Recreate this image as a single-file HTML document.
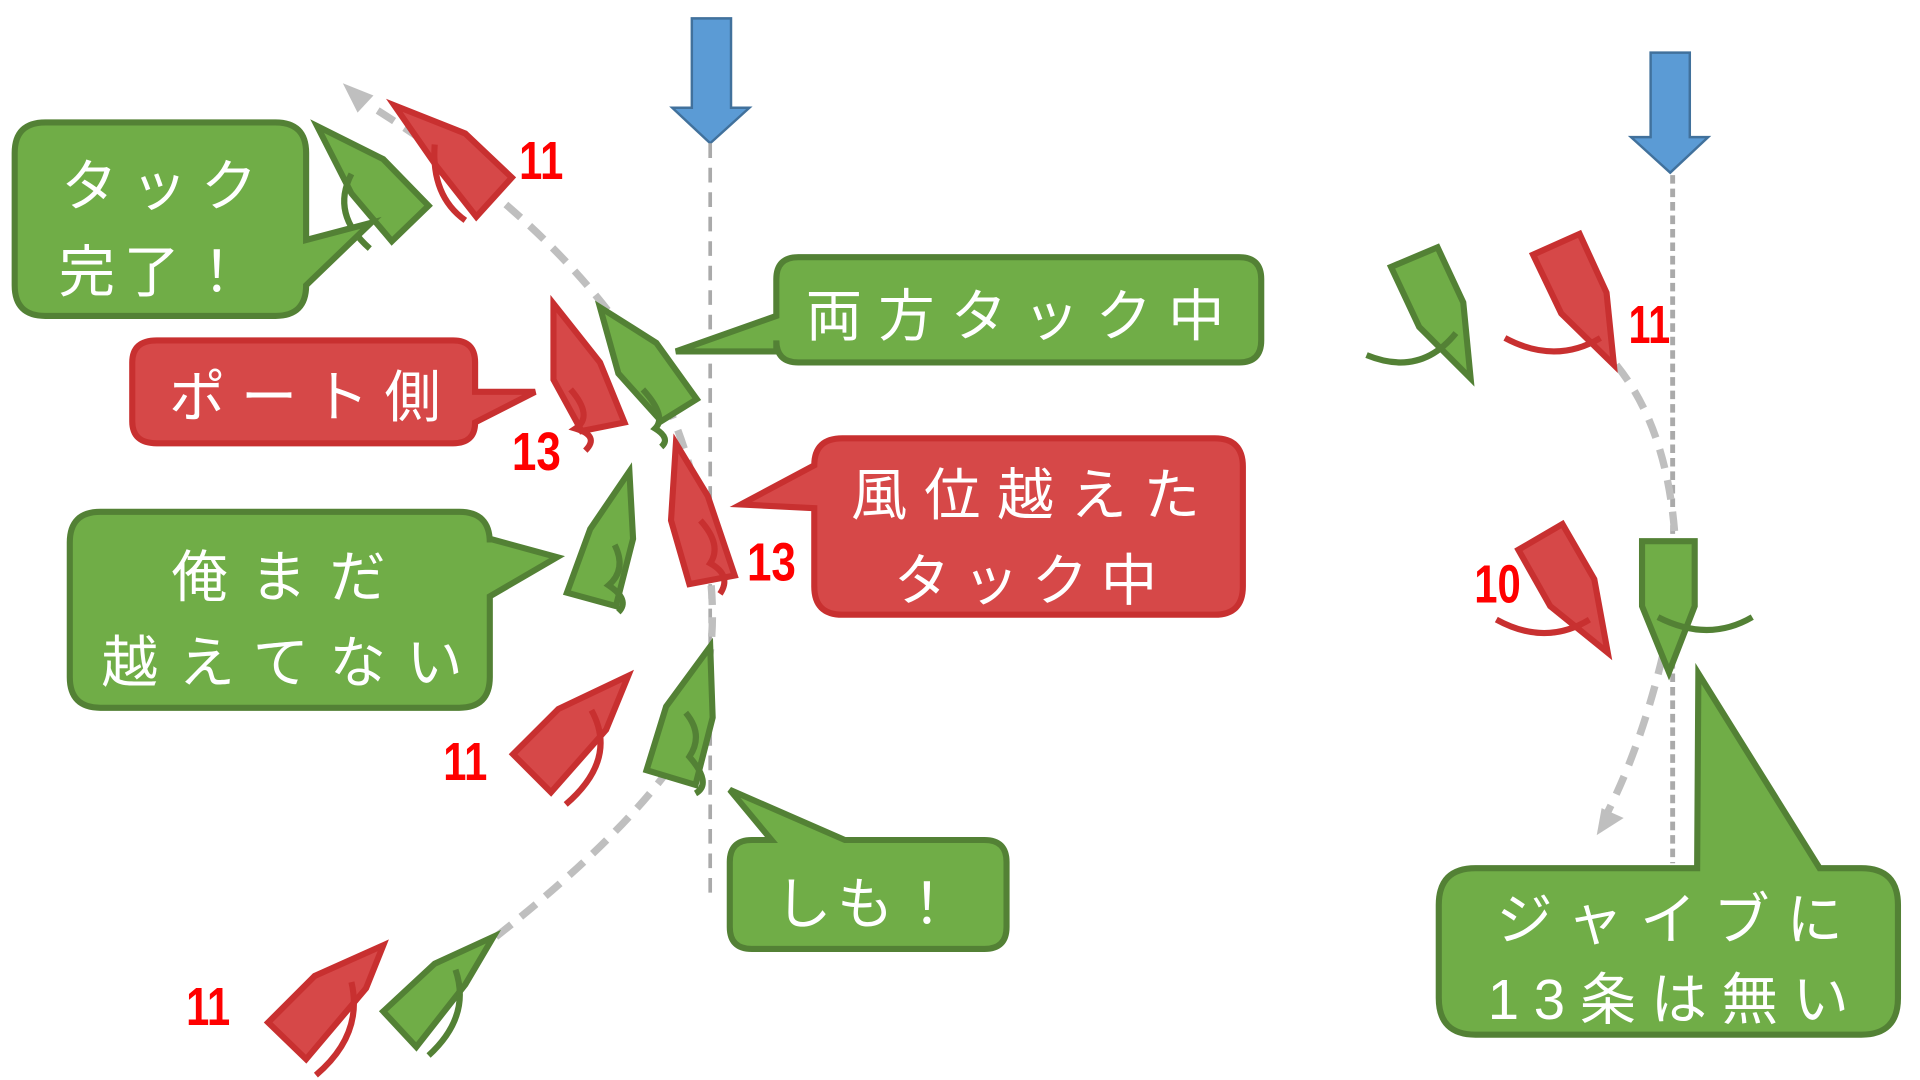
<!DOCTYPE html>
<html><head><meta charset="utf-8"><style>
html,body{margin:0;padding:0;background:#fff;width:1920px;height:1080px;overflow:hidden}
svg{display:block}
.t{font-family:"Liberation Sans","Noto Sans CJK JP",sans-serif;fill:#fff;font-size:46px}
.n{font-family:"Liberation Sans Narrow","Liberation Sans",sans-serif;fill:#ff0000;font-size:44px;font-weight:bold}
.g{fill:#70ad47;stroke:#538135;stroke-width:5;stroke-linejoin:miter}
.r{fill:#d64848;stroke:#c83030;stroke-width:5;stroke-linejoin:miter}
.gl{fill:none;stroke:#538135;stroke-width:5}
.rl{fill:none;stroke:#c83030;stroke-width:5}
.ds{fill:none;stroke:#bfbfbf;stroke-width:6;stroke-dasharray:16 10}
</style></head><body>
<svg width="1920" height="1080" viewBox="0 0 1568 882" preserveAspectRatio="none" xmlns="http://www.w3.org/2000/svg">
<polygon points="565,15 597,15 597,88 612,88 580,117 549,88 565,88" fill="#5b9bd5" stroke="#41719c" stroke-width="2"/>
<line x1="580" y1="117" x2="580" y2="735" stroke="#aaa" stroke-width="3" stroke-dasharray="12 8"/>
<polygon points="1348,43 1380,43 1380,112 1395,112 1364,141 1332,112 1348,112" fill="#5b9bd5" stroke="#41719c" stroke-width="2"/>
<line x1="1366" y1="143" x2="1366" y2="705" stroke="#aaa" stroke-width="4" stroke-dasharray="7 4"/>

<path class="ds" d="M405,765 Q500,690 545,630 Q590,560 580,470 Q570,380 540,320 Q470,190 300,85"/>
<polygon points="280,68 305,78 292,92" fill="#bfbfbf"/>
<path class="ds" d="M1320,298 Q1362,350 1368,440"/>
<path class="ds" d="M1358,535 Q1340,610 1312,665"/>
<polygon points="1304,682 1326,668 1308,660" fill="#bfbfbf"/>

<polygon class="g" points="259,103 313,130 350,168 320,197 287,158"/>
<path class="gl" d="M287,142 Q270,175 302,203"/>
<polygon class="r" points="322,86 380,109 418,145 389,177 356,135"/>
<path class="rl" d="M355,118 Q352,160 380,180"/>
<text class="n" x="424" y="146" textLength="36" lengthAdjust="spacingAndGlyphs">11</text>

<polygon class="g" points="490,251 536,280 569,326 540,344 505,305"/>
<path class="gl" d="M525,318 Q545,340 535,350 Q548,358 540,365"/>
<polygon class="r" points="452,248 490,296 510,345 475,352 452,310"/>
<path class="rl" d="M466,318 Q485,340 470,350 Q490,356 478,368"/>
<text class="n" x="418" y="384" textLength="40" lengthAdjust="spacingAndGlyphs">13</text>

<polygon class="r" points="552,362 578,405 600,470 563,477 548,425"/>
<path class="rl" d="M572,425 Q590,445 580,460 Q598,470 588,485"/>
<text class="n" x="610" y="474" textLength="40" lengthAdjust="spacingAndGlyphs">13</text>

<polygon class="g" points="514,385 517,440 503,495 463,484 482,432"/>
<path class="gl" d="M502,445 Q512,465 497,478 Q515,490 505,500"/>

<polygon class="r" points="513,552 495,596 450,647 419,616 456,579"/>
<path class="rl" d="M483,580 Q505,620 462,657"/>
<text class="n" x="362" y="637" textLength="36" lengthAdjust="spacingAndGlyphs">11</text>

<polygon class="g" points="580,528 582,586 568,641 528,629 544,577"/>
<path class="gl" d="M560,582 Q575,600 563,618 Q582,640 568,648"/>

<polygon class="r" points="313,772 299,807 250,865 219,835 257,797"/>
<path class="rl" d="M287,802 Q297,845 258,878"/>
<text class="n" x="152" y="837" textLength="36" lengthAdjust="spacingAndGlyphs">11</text>

<polygon class="g" points="403,765 380,804 340,855 313,826 355,787"/>
<path class="gl" d="M372,792 Q385,830 350,862"/>

<polygon class="g" points="1136,218 1174,202 1195,247 1201,309 1159,267"/>
<path class="gl" d="M1116,290 Q1160,308 1189,272"/>
<polygon class="r" points="1252,208 1290,191 1312,239 1318,298 1275,256"/>
<path class="rl" d="M1229,276 Q1270,298 1307,276"/>
<text class="n" x="1330" y="280" textLength="34" lengthAdjust="spacingAndGlyphs">11</text>

<polygon class="r" points="1240,449 1276,428 1302,473 1313,533 1266,495"/>
<path class="rl" d="M1222,506 Q1262,528 1298,506"/>
<text class="n" x="1204" y="492" textLength="38" lengthAdjust="spacingAndGlyphs">10</text>

<polygon class="g" points="1341,442 1384,442 1384,495 1363,549 1341,495"/>
<path class="gl" d="M1354,504 Q1395,525 1431,504"/>

<path class="g" d="M37,100 H225 Q250,100 250,125 V196 L303,182 L250,233 Q250,258 225,258 H37 Q12,258 12,233 V125 Q12,100 37,100 Z"/>
<text class="t" x="50" y="168" textLength="160" lengthAdjust="spacing">タック</text>
<text class="t" x="48" y="238" textLength="152" lengthAdjust="spacing">完了！</text>

<path class="g" d="M652,210 H1012 Q1030,210 1030,228 V278 Q1030,296 1012,296 H652 Q634,296 634,278 V287 L552,287 L634,258 V228 Q634,210 652,210 Z"/>
<text class="t" x="658" y="274" textLength="342" lengthAdjust="spacing">両方タック中</text>

<path class="r" d="M128,278 H370 Q388,278 388,296 V320 L437,320 L388,345 Q388,362 370,362 H128 Q108,362 108,344 V296 Q108,278 128,278 Z"/>
<text class="t" x="138" y="340" textLength="222" lengthAdjust="spacing">ポート側</text>

<path class="r" d="M688,358 H992 Q1015,358 1015,381 V479 Q1015,502 992,502 H688 Q665,502 665,479 V415 L605,412 L665,380 Q665,358 688,358 Z"/>
<text class="t" x="695" y="420" textLength="285" lengthAdjust="spacing">風位越えた</text>
<text class="t" x="730" y="490" textLength="215" lengthAdjust="spacing">タック中</text>

<path class="g" d="M82,418 H375 Q400,418 400,443 V440 L455,455 L400,487 V553 Q400,578 375,578 H82 Q57,578 57,553 V443 Q57,418 82,418 Z"/>
<text class="t" x="140" y="487" textLength="175" lengthAdjust="spacing">俺まだ</text>
<text class="t" x="83" y="557" textLength="295" lengthAdjust="spacing">越えてない</text>

<path class="g" d="M614,686 H630 L596,645 L690,686 H804 Q822,686 822,704 V757 Q822,775 804,775 H614 Q596,775 596,757 V704 Q596,686 614,686 Z"/>
<text class="t" x="633" y="754" textLength="147" lengthAdjust="spacing">しも！</text>

<path class="g" d="M1205,709 H1386 L1387,550 L1486,709 H1520 Q1550,709 1550,739 V815 Q1550,845 1520,845 H1205 Q1175,845 1175,815 V739 Q1175,709 1205,709 Z"/>
<text class="t" x="1222" y="767" textLength="283" lengthAdjust="spacing">ジャイブに</text>
<text class="t" x="1215" y="832" textLength="295" lengthAdjust="spacing">13条は無い</text>
</svg>
</body></html>
